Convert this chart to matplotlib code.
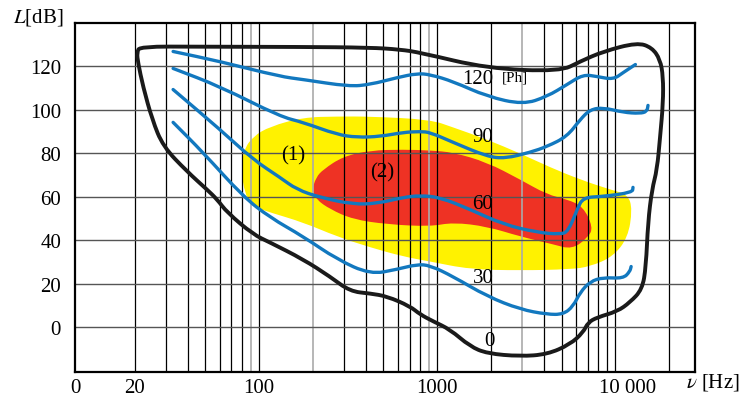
import numpy as np
import matplotlib
matplotlib.use("Agg")
import matplotlib.pyplot as plt
from matplotlib.path import Path
from matplotlib.patches import PathPatch
from matplotlib.transforms import ScaledTranslation

plt.rcParams["font.family"] = ["Liberation Serif", "DejaVu Serif"]
plt.rcParams["mathtext.fontset"] = "stix"

# Межа області слуху (поріг чутності + поріг болю), f [Hz], L [dB]
env_f = [21.4, 46.7, 170, 421, 620, 802, 1910, 4910, 6360, 8570, 13300, 16100,
         17900, 18600, 18600, 17900, 17200, 16100, 15300, 14900, 14200, 12100,
         10300, 7920, 7050, 6610, 5580, 4150, 2930, 1910, 1530, 1180, 950, 802,
         705, 523, 421, 324, 250, 177, 115, 92.5, 66.1, 58.1, 51.0, 39.4, 28.9,
         25.1, 22.3, 20.9, 20.6]
env_L = [129.2, 129.1, 129.0, 128.7, 127.8, 126.4, 119.1, 117.7, 122.3, 126.9,
         131.0, 128.7, 123.2, 115.4, 103.4, 87.8, 72.6, 63.4, 48.3, 28.0, 17.5,
         11.5, 7.4, 4.6, 2.3, -2.3, -7.8, -12.4, -13.3, -12.0, -8.7, -0.9, 2.8,
         6.0, 9.7, 14.3, 15.6, 16.6, 23.4, 31.3, 39.1, 42.8, 52.9, 58.9, 63.4,
         71.7, 83.2, 95.6, 110.8, 121.8, 126.4]

# Криві однакової гучності (120, 90, 60, 30 фон)
ph120_f = [32.9, 60.4, 131, 177, 320, 421, 596, 772, 914, 1230, 1910, 3040,
           4150, 5370, 6610, 7920, 9750, 11100, 13000]
ph120_L = [126.9, 122.3, 115.4, 114.0, 110.8, 111.7, 114.9, 116.8, 116.3, 113.1,
           106.2, 102.5, 106.2, 111.7, 116.3, 115.4, 114.0, 117.2, 120.9]

ph90_f = [32.9, 60.4, 131, 177, 274, 355, 479, 645, 802, 914, 1230, 1910, 2410,
          3330, 4150, 5370, 6360, 7240, 8570, 11100, 13800, 15100, 15300]
ph90_L = [119.1, 110.8, 97.0, 94.3, 88.7, 87.4, 87.8, 89.7, 90.1, 89.7, 85.1,
          78.6, 77.7, 80.5, 83.2, 87.8, 95.6, 100.2, 101.1, 98.9, 98.4, 99.3, 102.1]

ph60_f = [32.9, 60.4, 92.5, 131, 163, 220, 337, 460, 645, 802, 1040, 1530, 2350,
          3650, 4910, 5450, 6120, 6610, 8570, 12500, 12600]
ph60_L = [109.4, 91.0, 77.2, 69.0, 63.4, 59.8, 56.6, 57.0, 59.8, 60.7, 59.8,
          54.3, 47.4, 43.7, 42.8, 44.1, 54.3, 59.8, 60.2, 62.1, 64.4]

ph30_f = [32.9, 48.4, 81.3, 115, 177, 274, 421, 596, 772, 914, 1230, 1910, 2930,
          4150, 5110, 5810, 6360, 7240, 8570, 11100, 12100, 12300]
ph30_L = [94.3, 80.5, 60.2, 50.6, 41.8, 31.3, 24.4, 26.7, 29.0, 28.5, 23.4, 14.3,
          8.3, 6.0, 6.0, 9.7, 16.1, 21.1, 23.0, 22.5, 25.7, 28.0]

# Область музики (1) та мовлення (2)
music_f = [79.2, 82.3, 92.5, 115, 177, 274, 421, 914, 1230, 1910, 2930, 4320,
           6360, 9370, 11800, 12500, 11800, 9750, 7240, 5590, 2930, 1530, 914,
           645, 421, 274, 177, 115, 92.5, 83.4]
music_L = [72.6, 81.8, 87.8, 92.4, 96.6, 97.0, 97.0, 95.6, 92.0, 86.4, 80.0,
           73.6, 68.0, 63.4, 61.1, 54.3, 41.4, 32.6, 28.0, 26.7, 26.2, 26.7, 30.3,
           32.6, 36.8, 41.8, 48.3, 52.9, 55.6, 61.1]

speech_f = [199, 209, 229, 296, 421, 645, 914, 1230, 1910, 2930, 4150, 5370,
            6610, 7520, 7050, 5730, 4490, 2930, 1910, 1230, 914, 524, 337, 251, 209]
speech_L = [63.4, 69.0, 72.6, 78.6, 81.4, 81.8, 81.4, 80.5, 75.9, 68.0, 61.1,
            58.9, 55.6, 46.0, 41.4, 35.9, 38.2, 41.8, 46.4, 48.3, 46.4, 47.4, 49.7,
            54.3, 58.9]

y_ticks = [0, 20, 40, 60, 80, 100, 120]
x_tick_labels = ["0", "20", "100", "1000", "10 000"]

f_min, f_max = 9.25, 28100


def smooth_path(fs, Ls, closed=False):
    # згладжена лінія: квадратичні Без'є через середини відрізків (у лог-шкалі)
    lf = np.log10(fs)
    L = np.asarray(Ls, float)
    pts = np.column_stack([lf, L])
    n = len(pts)
    verts, codes = [], []
    if closed:
        mids = [(pts[i] + pts[(i + 1) % n]) / 2 for i in range(n)]
        verts.append(mids[-1]); codes.append(Path.MOVETO)
        for i in range(n):
            verts += [pts[i], mids[i]]
            codes += [Path.CURVE3, Path.CURVE3]
        codes[-1] = Path.CURVE3
        verts.append(mids[-1]); codes.append(Path.CLOSEPOLY)
    else:
        verts.append(pts[0]); codes.append(Path.MOVETO)
        verts.append((pts[0] + pts[1]) / 2); codes.append(Path.LINETO)
        for i in range(1, n - 1):
            verts += [pts[i], (pts[i] + pts[i + 1]) / 2]
            codes += [Path.CURVE3, Path.CURVE3]
        verts.append(pts[-1]); codes.append(Path.LINETO)
    verts = np.array(verts)
    verts[:, 0] = 10 ** verts[:, 0]
    return Path(verts, codes)


fig = plt.figure(figsize=(7.47, 4.06), dpi=100)
ax = fig.add_axes([0.1004, 0.0813, 0.83, 0.8596])
ax.set_xscale("log")
ax.set_xlim(f_min, f_max)
ax.set_ylim(-20.5, 140)

# Сітка
black_v = [20, 30, 40, 50, 60, 70, 80, 100, 300, 400, 500, 600, 700, 800,
           1000, 2000, 4000, 5000, 6000, 7000, 8000, 9000, 10000, 20000]
grey_v = [90, 200, 900, 3000]
for v in black_v:
    ax.axvline(v, color="black", lw=0.9, zorder=2)
for v in grey_v:
    ax.axvline(v, color="#aaaaaa", lw=1.2, zorder=2)
for h in y_ticks:
    ax.axhline(h, color="#555555", lw=1.0, zorder=2)

ax.add_patch(PathPatch(smooth_path(music_f, music_L, closed=True),
                       facecolor="#fff200", lw=0, zorder=1))
ax.add_patch(PathPatch(smooth_path(speech_f, speech_L, closed=True),
                       facecolor="#ee3224", lw=0, zorder=1.5))

blue = "#1278bf"
for fs, Ls in [(ph120_f, ph120_L), (ph90_f, ph90_L), (ph60_f, ph60_L), (ph30_f, ph30_L)]:
    ax.add_patch(PathPatch(smooth_path(fs, Ls), facecolor="none", edgecolor=blue,
                           lw=2.4, capstyle="round", joinstyle="round", zorder=3))
ax.add_patch(PathPatch(smooth_path(env_f, env_L, closed=True), facecolor="none",
                       edgecolor="#1a1a1a", lw=2.8, joinstyle="round", zorder=4))

txt = dict(fontsize=15, ha="center", va="center", zorder=5)
ax.text(1700, 114.5, "120", **txt)
ax.text(2740, 115, "[Ph]", fontsize=11, ha="center", va="center", zorder=5)
ax.text(1810, 88, "90", **txt)
ax.text(1790, 57, "60", **txt)
ax.text(1820, 23, "30", **txt)
ax.text(1960, -6, "0", **txt)
ax.text(155, 79.5, "(1)", **txt)
ax.text(491, 71.7, "(2)", **txt)

for s in ax.spines.values():
    s.set_linewidth(1.6)
    s.set_zorder(6)

ax.set_yticks(y_ticks)
ax.set_yticklabels([str(t) for t in y_ticks])
ax.set_xticks([f_min, 20, 100, 1000, 10000])
ax.set_xticklabels(x_tick_labels)
ax.minorticks_off()
ax.tick_params(axis="both", length=0, labelsize=15)
ax.tick_params(axis="y", pad=10)
ax.tick_params(axis="x", pad=4)
lab = ax.get_xticklabels()[-1]
lab.set_transform(lab.get_transform() + ScaledTranslation(12 / 100, 0, fig.dpi_scale_trans))

fig.text(38 / 747, 1 - 18 / 406, "$L$[dB]", fontsize=15, ha="center", va="center")
fig.text(713 / 747, 1 - 383 / 406, r"$\nu$ [Hz]", fontsize=15, ha="center", va="center")

fig.savefig("out.png", dpi=100)
